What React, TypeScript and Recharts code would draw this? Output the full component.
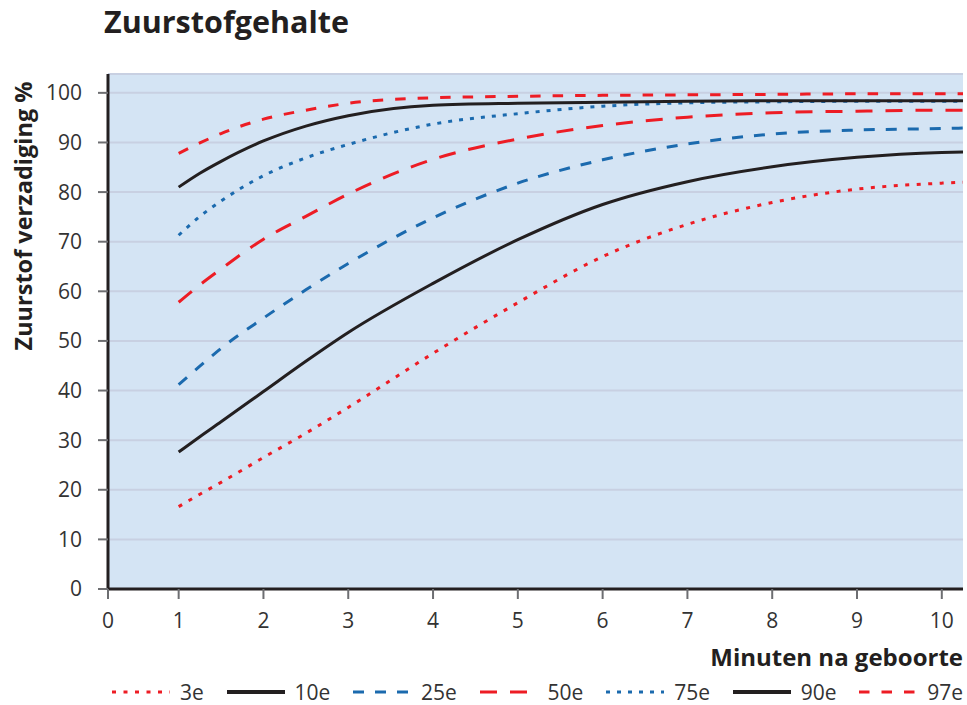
import { LineChart, Line, XAxis, YAxis, CartesianGrid } from "recharts";

// minutes after birth where the percentile curves were read
const minutes = [1, 1.25, 1.5, 2, 2.5, 3, 4, 5, 6, 7, 8, 9, 10, 10.25];

// oxygen saturation % per percentile
const p3 = [16.6, 19.1, 21.5, 26.5, 31.4, 36.6, 47.5, 57.7, 67.0, 73.5, 77.9, 80.6, 81.8, 82.0];
const p10 = [27.6, 30.7, 33.7, 39.8, 45.9, 51.7, 61.6, 70.4, 77.5, 82.1, 85.1, 87.0, 88.0, 88.1];
const p25 = [41.2, 44.9, 48.5, 54.6, 60.3, 65.6, 74.8, 81.8, 86.5, 89.7, 91.7, 92.5, 92.8, 92.9];
const p50 = [57.8, 61.3, 64.5, 70.5, 75.1, 79.6, 86.6, 90.7, 93.4, 95.1, 96.0, 96.3, 96.5, 96.5];
const p75 = [71.3, 75.1, 78.2, 83.3, 86.9, 89.6, 93.7, 95.8, 97.3, 98.0, 98.2, 98.3, 98.3, 98.3];
const p90 = [81.0, 83.8, 86.2, 90.3, 93.3, 95.4, 97.5, 97.9, 98.1, 98.3, 98.4, 98.4, 98.4, 98.4];
const p97 = [87.8, 89.9, 91.8, 94.7, 96.5, 97.9, 99.0, 99.3, 99.5, 99.6, 99.7, 99.8, 99.8, 99.8];

const yTicks = [0, 10, 20, 30, 40, 50, 60, 70, 80, 90, 100];
// the "0" tick sits at the left edge of the plot, closer to 1 than the other steps
const xTicks = [1 / 6, 1, 2, 3, 4, 5, 6, 7, 8, 9, 10];

const RED = "#ed1c24";
const BLUE = "#1b6aae";
const BLACK = "#231f20";

const series = [
  { key: "p3", name: "3e", values: p3, color: RED, dash: "4 7.5" },
  { key: "p10", name: "10e", values: p10, color: BLACK, dash: undefined },
  { key: "p25", name: "25e", values: p25, color: BLUE, dash: "11 11" },
  { key: "p50", name: "50e", values: p50, color: RED, dash: "17 13" },
  { key: "p75", name: "75e", values: p75, color: BLUE, dash: "4 7" },
  { key: "p90", name: "90e", values: p90, color: BLACK, dash: undefined },
  { key: "p97", name: "97e", values: p97, color: RED, dash: "10.5 12" },
];

const data = minutes.map((t, i) => {
  const row: any = { t };
  series.forEach((s) => (row[s.key] = s.values[i]));
  return row;
});

const FONT = "'Open Sans', 'Noto Sans', sans-serif";

export default function App() {
  return (
    <div
      style={{
        position: "absolute",
        left: 0,
        top: 0,
        width: 967,
        height: 705,
        background: "#fff",
        fontFamily: FONT,
        color: BLACK,
      }}
    >
      <div
        style={{
          position: "absolute",
          left: 104,
          top: 2,
          fontSize: 30.5,
          fontWeight: 700,
          lineHeight: "38px",
        }}
      >
        Zuurstofgehalte
      </div>

      <div
        style={{
          position: "absolute",
          left: 23,
          top: 216,
          transform: "translate(-50%, -50%) rotate(-90deg)",
          whiteSpace: "nowrap",
          fontSize: 23.5,
          fontWeight: 700,
        }}
      >
        Zuurstof verzadiging %
      </div>

      <LineChart
        width={967}
        height={705}
        data={data}
        margin={{ top: 74, right: 4, left: 0, bottom: 76 }}
      >
        <CartesianGrid
          vertical={false}
          fill="#d4e4f4"
          stroke="#c8d0e2"
          strokeWidth={2}
        />
        <XAxis
          dataKey="t"
          type="number"
          domain={[1 / 6, 10.25]}
          ticks={xTicks}
          allowDataOverflow
          height={40}
          tickSize={10}
          tickMargin={14}
          tickFormatter={(v: number) => (v < 1 ? "0" : String(v))}
          tick={{ fill: "#333", fontSize: 21, fontFamily: FONT }}
          tickLine={{ stroke: "#6d6e71", strokeWidth: 2 }}
          axisLine={{ stroke: BLACK, strokeWidth: 3 }}
        />
        <YAxis
          type="number"
          domain={[0, 103.8]}
          ticks={yTicks}
          allowDataOverflow
          width={108}
          tickSize={10}
          tickMargin={16}
          tick={{ fill: "#333", fontSize: 21, fontFamily: FONT }}
          tickLine={{ stroke: "#6d6e71", strokeWidth: 2 }}
          axisLine={{ stroke: BLACK, strokeWidth: 3 }}
        />
        {series.map((s) => (
          <Line
            key={s.key}
            dataKey={s.key}
            name={s.name}
            type="monotone"
            stroke={s.color}
            strokeWidth={3}
            strokeDasharray={s.dash}
            dot={false}
            activeDot={false}
            isAnimationActive={false}
          />
        ))}
      </LineChart>

      <div
        style={{
          position: "absolute",
          right: 4,
          top: 641,
          fontSize: 24,
          fontWeight: 700,
          lineHeight: "32px",
        }}
      >
        Minuten na geboorte
      </div>

      <div
        style={{
          position: "absolute",
          left: 112,
          right: 4,
          top: 678,
          display: "flex",
          justifyContent: "space-between",
          alignItems: "center",
          fontSize: 21,
          color: "#333",
          lineHeight: "28px",
        }}
      >
        {series.map((s) => (
          <div key={s.key} style={{ display: "flex", alignItems: "center" }}>
            <svg width={58} height={10} style={{ marginRight: 10 }}>
              <line
                x1={0}
                y1={5}
                x2={58}
                y2={5}
                stroke={s.color}
                strokeWidth={s.dash ? 3 : 4}
                strokeDasharray={s.dash}
              />
            </svg>
            <span>{s.name}</span>
          </div>
        ))}
      </div>
    </div>
  );
}
